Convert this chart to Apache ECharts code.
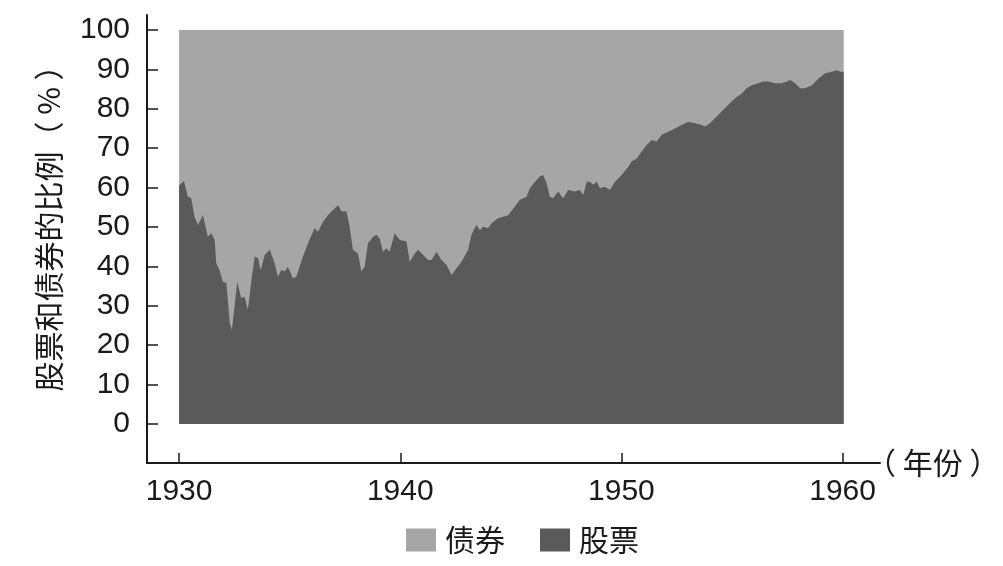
<!DOCTYPE html>
<html>
<head>
<meta charset="utf-8">
<script src="https://cdn.jsdelivr.net/npm/echarts@6/dist/echarts.min.js"></script>
<style>
html,body{margin:0;padding:0;background:#fff;}
#chart{width:1003px;height:566px;}
</style>
</head>
<body>
<div id="chart"></div>
<script>
// Time (decimal year) of traced points
var years = [1930.00,1930.07,1930.22,1930.40,1930.55,1930.70,1930.85,1931.08,1931.30,1931.46,1931.61,1931.68,1931.83,1931.98,1932.14,1932.29,1932.39,1932.48,1932.63,1932.81,1932.96,1933.11,1933.27,1933.42,1933.57,1933.69,1933.87,1934.10,1934.32,1934.47,1934.62,1934.77,1934.92,1935.15,1935.30,1935.60,1935.83,1936.13,1936.28,1936.51,1936.73,1936.89,1937.04,1937.19,1937.34,1937.57,1937.71,1937.86,1938.09,1938.24,1938.39,1938.54,1938.77,1938.92,1939.07,1939.22,1939.37,1939.52,1939.75,1939.98,1940.28,1940.43,1940.66,1940.81,1941.03,1941.26,1941.41,1941.64,1941.86,1942.09,1942.32,1942.54,1942.77,1943.07,1943.22,1943.44,1943.60,1943.75,1943.97,1944.12,1944.42,1944.65,1944.88,1945.18,1945.41,1945.71,1945.86,1946.09,1946.31,1946.46,1946.62,1946.76,1946.91,1947.14,1947.37,1947.59,1947.90,1948.12,1948.27,1948.43,1948.57,1948.72,1948.88,1949.03,1949.25,1949.48,1949.71,1950.01,1950.31,1950.46,1950.69,1950.91,1951.14,1951.37,1951.59,1951.82,1952.12,1952.42,1952.72,1953.02,1953.33,1953.63,1953.78,1954.00,1954.23,1954.53,1954.83,1955.14,1955.44,1955.66,1955.89,1956.19,1956.42,1956.64,1956.95,1957.25,1957.48,1957.63,1957.85,1958.08,1958.30,1958.61,1958.91,1959.21,1959.51,1959.74,1959.89,1960.05];
// Share of stocks (%)
var stocks = [60.5,60.7,61.7,57.7,57.3,52.6,50.5,53.0,47.5,48.4,46.7,40.8,39.0,36.1,35.8,25.6,23.9,23.9,36.1,32.0,32.3,28.9,36.5,42.5,42.1,39.0,42.9,44.2,40.8,37.4,39.1,38.7,39.9,37.0,37.4,42.5,45.9,49.7,48.8,51.3,53.0,53.9,54.7,55.6,54.0,53.9,50.1,44.2,43.3,38.7,39.9,45.9,47.5,48.0,47.1,43.7,44.6,43.7,48.4,46.7,46.3,41.2,43.3,44.2,42.9,41.6,41.6,43.7,41.6,40.4,37.8,39.5,41.2,44.2,48.0,50.5,49.2,50.1,49.7,50.9,52.2,52.6,53.0,55.2,56.9,57.7,59.8,61.5,62.8,63.2,61.1,57.7,57.3,59.0,57.3,59.4,59.0,59.4,58.1,61.5,61.5,60.7,61.5,59.8,60.2,59.4,61.5,63.2,65.3,66.6,67.4,69.1,70.8,72.1,71.7,73.4,74.2,75.0,75.9,76.7,76.3,75.9,75.5,76.3,77.6,79.3,81.0,82.7,83.9,85.2,86.0,86.5,86.9,86.9,86.5,86.5,86.9,87.3,86.5,85.2,85.2,86.0,87.7,89.0,89.4,89.8,89.4,89.4];
// Share of bonds (%) = remainder of the portfolio
var bonds = stocks.map(function (s) { return +(100 - s).toFixed(1); });
var xTicks = [1930, 1940, 1950, 1960];
var yTicks = [0, 10, 20, 30, 40, 50, 60, 70, 80, 90, 100];

var FONT = 'Liberation Sans, "Noto Sans CJK SC", sans-serif';
var CJK = '"Noto Sans CJK SC", sans-serif';

// Manual stacking (both axes are value axes): bonds band sits on top of stocks
var stockPts = years.map(function (y, i) { return [y, stocks[i]]; });
var bondTopPts = years.map(function (y, i) { return [y, stocks[i] + bonds[i]]; });

var chart = echarts.init(document.getElementById('chart'), null, {renderer: 'canvas'});
chart.setOption({
  animation: false,
  backgroundColor: '#ffffff',
  grid: {left: 147, right: 123, top: 15, bottom: 103, outerBoundsMode: 'none', containLabel: false},
  legend: {
    data: ['债券', '股票'],
    left: 401, top: 520,
    itemWidth: 30, itemHeight: 23, itemGap: 35,
    icon: 'rect',
    textStyle: {fontFamily: CJK, fontSize: 30, color: '#1a1a1a', padding: [0, 0, 0, 4]}
  },
  xAxis: {
    type: 'value', min: 1928.55, max: 1961.69,
    name: '（ 年份 ）', nameLocation: 'end', nameGap: -14, nameMoveOverlap: false,
    nameTextStyle: {fontFamily: CJK, fontSize: 30, color: '#1a1a1a', verticalAlign: 'middle'},
    axisLine: {show: true, onZero: false, lineStyle: {color: '#1a1a1a', width: 2}},
    axisTick: {show: true, inside: true, length: 10, customValues: xTicks, lineStyle: {color: '#1a1a1a', width: 1.5}},
    axisLabel: {customValues: xTicks, margin: 14, fontFamily: FONT, fontSize: 30, color: '#1a1a1a',
      formatter: function (v) { return String(v); }},
    splitLine: {show: false}
  },
  yAxis: {
    type: 'value', min: -9.9, max: 103.8,
    name: '股票和债券的比例（ % ）', nameLocation: 'middle', nameGap: 83, nameMoveOverlap: false,
    nameTextStyle: {fontFamily: CJK, fontSize: 30, color: '#1a1a1a', padding: [0, 0, 0, 36]},
    axisLine: {show: true, onZero: false, lineStyle: {color: '#1a1a1a', width: 2}},
    axisTick: {show: true, inside: true, length: 11, customValues: yTicks, lineStyle: {color: '#1a1a1a', width: 1.5}},
    axisLabel: {customValues: yTicks, margin: 17, fontFamily: FONT, fontSize: 30, color: '#1a1a1a',
      formatter: function (v) { return String(v); }},
    splitLine: {show: false}
  },
  series: [
    {
      name: '债券', type: 'line', showSymbol: false, symbol: 'none', z: 1,
      data: bondTopPts,
      itemStyle: {color: '#a6a6a6'},
      lineStyle: {width: 0, color: '#a6a6a6'},
      areaStyle: {color: '#a6a6a6', opacity: 1}
    },
    {
      name: '股票', type: 'line', showSymbol: false, symbol: 'none', z: 2,
      data: stockPts,
      itemStyle: {color: '#5a5a5a'},
      lineStyle: {width: 0, color: '#5a5a5a'},
      areaStyle: {color: '#5a5a5a', opacity: 1}
    }
  ]
});
</script>
</body>
</html>
